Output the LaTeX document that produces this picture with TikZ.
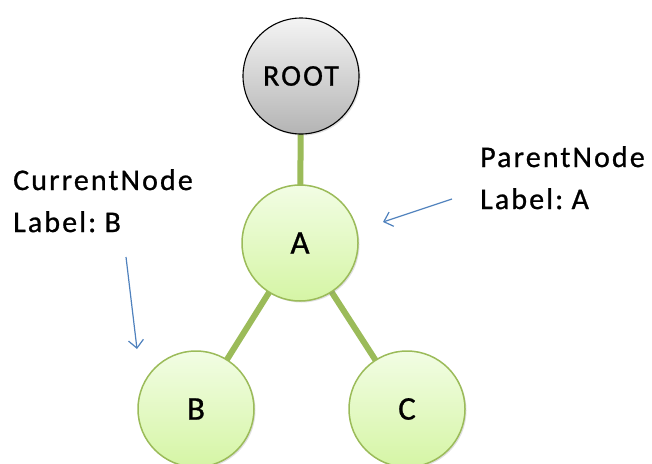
\documentclass[tikz,border=0pt]{standalone}
\usepackage{fontspec}
\setmainfont{Carlito}
\newfontfamily\spacedfont[LetterSpace=7,WordSpace=0.6,FakeBold=0.8]{Carlito}
\newfontfamily\nodefont[LetterSpace=4,FakeBold=0.8]{Carlito}
\usetikzlibrary{arrows.meta,shadows}
\definecolor{gbord}{HTML}{9BBB59}
\definecolor{gtop}{HTML}{F2FDE4}
\definecolor{gbot}{HTML}{D5F5A5}
\definecolor{rtop}{HTML}{F4F4F4}
\definecolor{rbot}{HTML}{B4B4B4}
\definecolor{ablue}{HTML}{4F81BD}
\tikzset{
  treenode/.style={circle, minimum size=116pt, inner sep=0pt, draw=gbord, line width=1.5pt,
    top color=gtop, bottom color=gbot, font=\nodefont\fontsize{33}{36}\selectfont,
    drop shadow={shadow xshift=1.5pt, shadow yshift=-1.5pt, opacity=0.25}},
  rootnode/.style={circle, minimum size=116pt, inner sep=0pt, draw=black, line width=1.1pt,
    top color=rtop, bottom color=rbot, font=\spacedfont\fontsize{30}{36}\selectfont,
    drop shadow={shadow xshift=1.5pt, shadow yshift=-1.5pt, opacity=0.25}},
  edge/.style={draw=gbord, line width=6pt},
  note/.style={align=left, anchor=north west, inner sep=0pt, font=\spacedfont\fontsize{30}{42}\selectfont},
  pointer/.style={draw=ablue, line width=1.2pt, -{Straight Barb[length=8pt,width=15pt]}}
}
\begin{document}
\begin{tikzpicture}[x=1pt,y=-1pt]
\useasboundingbox (0,0) rectangle (652,463);
\path[edge] (301,76) -- (300,243);
\path[edge] (300,243) -- (196,409);
\path[edge] (300,243) -- (407,409);
\node[rootnode] (root) at (301,76) {ROOT};
\node[treenode] (a) at (300,243) {A};
\node[treenode] (b) at (196,409) {B};
\node[treenode] (c) at (407,409) {C};
\node[note] (cur) at (13,169) {CurrentNode\\Label: B};
\node[note] (par) at (480,146) {ParentNode\\Label: A};
\coordinate (cs) at (126,257);
\coordinate (ce) at (137,349);
\coordinate (ps) at (452,199);
\coordinate (pe) at (383,222);
\draw[pointer] (cs) -- (ce);
\draw[pointer] (ps) -- (pe);
\end{tikzpicture}
\end{document}
